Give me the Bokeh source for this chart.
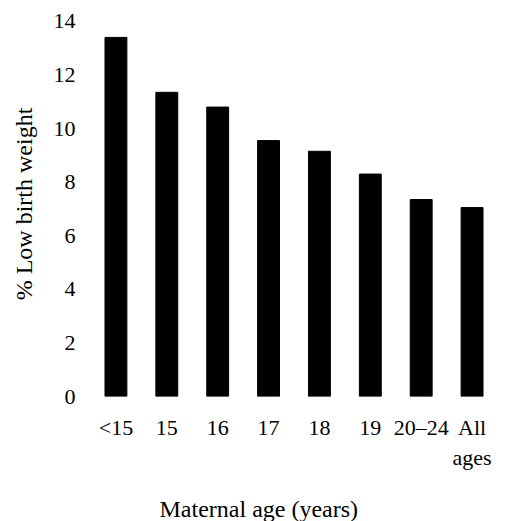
from bokeh.plotting import figure
from bokeh.models import Range1d, FactorRange, FixedTicker, ColumnDataSource, Title
from bokeh.embed import file_html
from bokeh.resources import INLINE

# data
age_groups = ["<15", "15", "16", "17", "18", "19", "20\u201324", "All\nages"]
low_birth_weight_pct = [13.4, 11.35, 10.8, 9.55, 9.15, 8.3, 7.35, 7.05]
y_ticks = [0, 2, 4, 6, 8, 10, 12, 14]

FONT = "Liberation Serif"

src = ColumnDataSource(data=dict(age=age_groups, pct=low_birth_weight_pct))

p = figure(
    x_range=FactorRange(*age_groups, range_padding=0),
    y_range=Range1d(0, 14.366),
    frame_width=407, frame_height=385,
    min_border_left=90, min_border_right=12, min_border_top=11, min_border_bottom=0,
    output_backend="svg", toolbar_location=None,
)

p.vbar(x="age", top="pct", width=0.43, source=src, fill_color="black", line_color="black")

p.outline_line_color = None
p.xgrid.grid_line_color = None
p.ygrid.grid_line_color = None
p.background_fill_color = "white"
p.border_fill_color = "white"

for ax in (p.xaxis[0], p.yaxis[0]):
    ax.axis_line_color = None
    ax.major_tick_line_color = None
    ax.minor_tick_line_color = None
    ax.major_tick_out = 0
    ax.major_tick_in = 0
    ax.minor_tick_out = 0
    ax.major_label_text_font = FONT
    ax.major_label_text_font_size = "22px"
    ax.major_label_text_color = "black"
    ax.axis_label_text_font = FONT
    ax.axis_label_text_font_size = "24px"
    ax.axis_label_text_font_style = "normal"
    ax.axis_label_text_color = "black"

p.yaxis.ticker = FixedTicker(ticks=y_ticks)
p.yaxis.major_label_standoff = 15
p.yaxis.axis_label = "% Low birth weight"
p.yaxis.axis_label_standoff = 14

p.xaxis.major_label_standoff = 18

p.add_layout(Title(text="Maternal age (years)", align="left", offset=69,
                   text_font=FONT, text_font_size="24px", text_font_style="normal",
                   text_color="black", standoff=42), "below")

open("out.html", "w").write(file_html(p, INLINE))
